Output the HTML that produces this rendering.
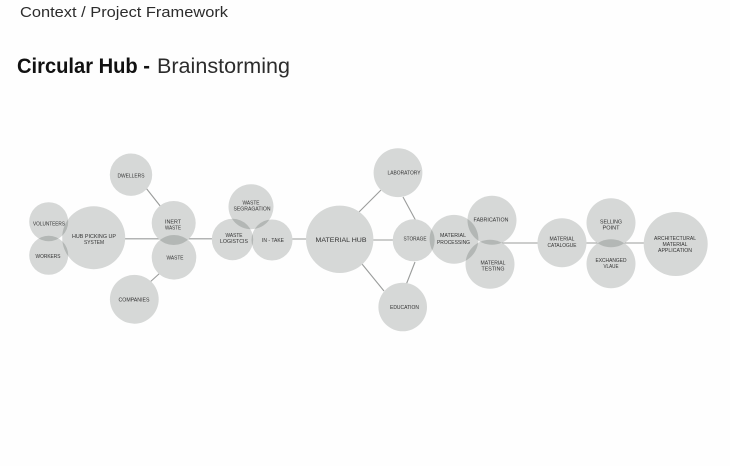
<!DOCTYPE html>
<html><head><meta charset="utf-8"><style>
html,body{margin:0;padding:0;background:#fefefe;width:730px;height:466px;overflow:hidden}
svg{display:block;filter:blur(0.35px)}
.c circle{fill:#d6d8d7;mix-blend-mode:multiply}
.l line{stroke:#9a9c9b;stroke-width:1.1}
.t text{font-family:"Liberation Sans",sans-serif;font-size:5.8px;fill:#333;text-anchor:middle}
.h{font-family:"Liberation Sans",sans-serif}
</style></head><body>
<svg width="730" height="466" viewBox="0 0 730 466" xmlns="http://www.w3.org/2000/svg">
<rect width="730" height="466" fill="#fefefe"/>
<text class="h" x="20" y="17" font-size="15" fill="#2c2c2c" textLength="208" lengthAdjust="spacingAndGlyphs">Context / Project Framework</text>
<text class="h" x="17" y="73" font-size="21" font-weight="700" fill="#111" textLength="133" lengthAdjust="spacingAndGlyphs">Circular Hub -</text>
<text class="h" x="157" y="73" font-size="21" fill="#2c2c2c" textLength="133" lengthAdjust="spacingAndGlyphs">Brainstorming</text>
<g class="l">
<line x1="122" y1="238.8" x2="216" y2="238.8"/>
<line x1="290" y1="239" x2="310" y2="239"/>
<line x1="370" y1="240" x2="396" y2="240"/>
<line x1="495" y1="243" x2="542" y2="243" stroke-width="1.4"/>
<line x1="582" y1="243" x2="648" y2="243"/>
<line x1="146" y1="188" x2="161" y2="207"/>
<line x1="149" y1="283" x2="160" y2="273"/>
<line x1="359" y1="212" x2="381" y2="190"/>
<line x1="403" y1="197" x2="416" y2="221"/>
<line x1="362" y1="264" x2="384" y2="291"/>
<line x1="415" y1="262" x2="406" y2="285"/>
</g>
<g class="c" style="isolation:isolate">
<circle cx="131" cy="174.7" r="21.2"/>
<circle cx="48.7" cy="221.7" r="19.5"/>
<circle cx="48.7" cy="255.3" r="19.5"/>
<circle cx="93.7" cy="237.7" r="31.5"/>
<circle cx="173.7" cy="223" r="22"/>
<circle cx="174" cy="257.3" r="22.3"/>
<circle cx="134.3" cy="299.3" r="24.4"/>
<circle cx="251" cy="206.7" r="22.5"/>
<circle cx="232.5" cy="239.5" r="20.7"/>
<circle cx="272" cy="240" r="20.5"/>
<circle cx="339.7" cy="239.3" r="33.7"/>
<circle cx="398" cy="172.7" r="24.4"/>
<circle cx="413.7" cy="240.3" r="21"/>
<circle cx="454" cy="239.3" r="24.4"/>
<circle cx="492" cy="220.3" r="24.5"/>
<circle cx="490" cy="264.3" r="24.5"/>
<circle cx="402.7" cy="307" r="24.3"/>
<circle cx="562" cy="242.7" r="24.5"/>
<circle cx="611" cy="222.7" r="24.5"/>
<circle cx="611" cy="263.7" r="24.5"/>
<circle cx="675.7" cy="244" r="32"/>
</g>
<g class="t">
<text x="131" y="177.5" textLength="27" lengthAdjust="spacingAndGlyphs">DWELLERS</text>
<text x="49" y="225.5" textLength="32" lengthAdjust="spacingAndGlyphs">VOLUNTEERS</text>
<text x="48" y="258" textLength="25" lengthAdjust="spacingAndGlyphs">WORKERS</text>
<text x="94" y="238" textLength="44" lengthAdjust="spacingAndGlyphs">HUB PICKING UP</text>
<text x="94" y="244" textLength="20" lengthAdjust="spacingAndGlyphs">SYSTEM</text>
<text x="173" y="223.5" textLength="16" lengthAdjust="spacingAndGlyphs">INERT</text>
<text x="173" y="229.5" textLength="16" lengthAdjust="spacingAndGlyphs">WASTE</text>
<text x="175" y="259.5" textLength="17" lengthAdjust="spacingAndGlyphs">WASTE</text>
<text x="134" y="301.5" textLength="31" lengthAdjust="spacingAndGlyphs">COMPANIES</text>
<text x="251" y="204.5" textLength="17" lengthAdjust="spacingAndGlyphs">WASTE</text>
<text x="252" y="210.5" textLength="37" lengthAdjust="spacingAndGlyphs">SEGRAGATION</text>
<text x="234" y="237" textLength="17" lengthAdjust="spacingAndGlyphs">WASTE</text>
<text x="234" y="243" textLength="28" lengthAdjust="spacingAndGlyphs">LOGISTCIS</text>
<text x="273" y="242" textLength="22" lengthAdjust="spacingAndGlyphs">IN - TAKE</text>
<text x="341" y="242" style="font-size:6.6px" textLength="51" lengthAdjust="spacingAndGlyphs">MATERIAL HUB</text>
<text x="404" y="174.5" textLength="33" lengthAdjust="spacingAndGlyphs">LABORATORY</text>
<text x="415" y="240.5" textLength="23" lengthAdjust="spacingAndGlyphs">STORAGE</text>
<text x="453" y="237" textLength="26" lengthAdjust="spacingAndGlyphs">MATERIAL</text>
<text x="453.5" y="244" textLength="33" lengthAdjust="spacingAndGlyphs">PROCESSING</text>
<text x="491" y="221.5" textLength="35" lengthAdjust="spacingAndGlyphs">FABRICATION</text>
<text x="493" y="264.5" textLength="25" lengthAdjust="spacingAndGlyphs">MATERIAL</text>
<text x="493" y="270.5" textLength="23" lengthAdjust="spacingAndGlyphs">TESTING</text>
<text x="404.5" y="309" textLength="29" lengthAdjust="spacingAndGlyphs">EDUCATION</text>
<text x="562" y="240.5" textLength="25" lengthAdjust="spacingAndGlyphs">MATERIAL</text>
<text x="562" y="247" textLength="29" lengthAdjust="spacingAndGlyphs">CATALOGUE</text>
<text x="611" y="223.5" textLength="22" lengthAdjust="spacingAndGlyphs">SELLING</text>
<text x="611" y="229.5" textLength="17" lengthAdjust="spacingAndGlyphs">POINT</text>
<text x="611" y="262" textLength="31" lengthAdjust="spacingAndGlyphs">EXCHANGED</text>
<text x="611" y="268" textLength="15" lengthAdjust="spacingAndGlyphs">VLAUE</text>
<text x="675" y="240" textLength="42" lengthAdjust="spacingAndGlyphs">ARCHITECTURAL</text>
<text x="675" y="246" textLength="25" lengthAdjust="spacingAndGlyphs">MATERIAL</text>
<text x="675" y="252" textLength="34" lengthAdjust="spacingAndGlyphs">APPLICATION</text>
</g>
</svg>
</body></html>
